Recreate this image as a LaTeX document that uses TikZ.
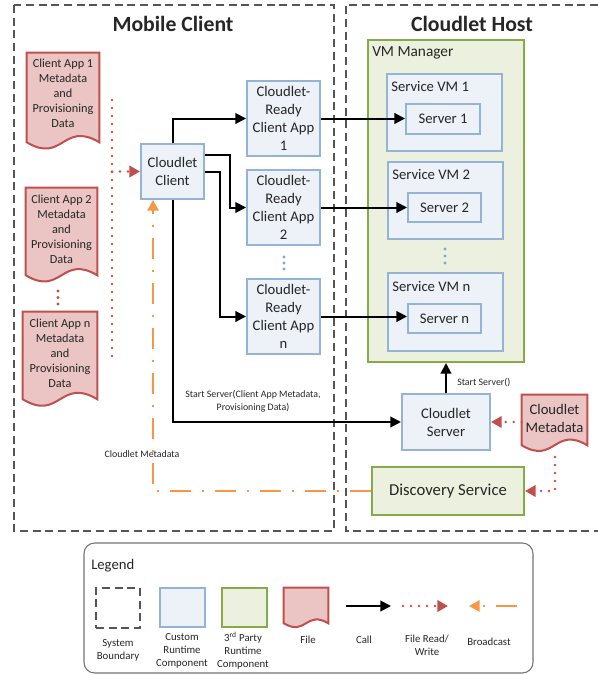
\documentclass[tikz,border=0pt]{standalone}
\usepackage{fontspec}
\setmainfont{Carlito}
\usetikzlibrary{arrows.meta,calc,backgrounds}
\definecolor{bluefill}{HTML}{EDF1F8}
\definecolor{blueline}{HTML}{95B3D7}
\definecolor{greenfill}{HTML}{EBF1DE}
\definecolor{greenline}{HTML}{86AA4A}
\definecolor{redfill}{HTML}{EAC5C4}
\definecolor{redline}{HTML}{C0504D}
\definecolor{orangeline}{HTML}{F79646}
\definecolor{bndline}{HTML}{555555}
\definecolor{dotblue}{HTML}{7FA6D6}
\newcommand\mytitlefont{\fontsize{16.3}{19}\selectfont\bfseries}
\newcommand\myboxfont{\fontsize{11}{13.5}\selectfont}
\newcommand\myfilefont{\fontsize{9.2}{11.25}\selectfont}
\newcommand\mysmallfont{\fontsize{7.4}{9.8}\selectfont}
\newcommand\mylegfont{\fontsize{8.1}{10}\selectfont}
\tikzset{
 sz/.style 2 args={minimum width=#1*0.75pt, minimum height=#2*0.75pt},
 custom/.style={draw=blueline, fill=bluefill, line width=1.5pt, inner sep=0pt, align=center, font=\myboxfont},
 thirdp/.style={draw=greenline, fill=greenfill, line width=1.5pt, inner sep=0pt, align=center, font=\myboxfont},
 filenode/.style={inner sep=0pt, align=center, font=\myfilefont},
 call/.style={line width=1.5pt, -{Triangle[length=8pt,width=8pt]}},
 frwline/.style={redline, line width=2pt, line cap=round, dash pattern=on 0pt off 6pt},
 frw/.style={frwline, -{Triangle[length=8pt,width=8.5pt]}},
 bcast/.style={orangeline, line width=1.5pt, dash pattern=on 15.75pt off 8.25pt on 1.5pt off 8.25pt, -{Triangle[length=8pt,width=8.5pt]}},
 bnd/.style={draw=bndline, line width=1pt, dash pattern=on 6pt off 3.5pt},
 txt/.style={inner sep=0pt, align=center},
}
\newcommand\docshape[1]{%
 \begin{pgfonlayer}{background}
 \path[draw=redline, fill=redfill, line width=1.5pt] let \p1=($(#1.north east)-(#1.north west)$) in
 (#1.north west) -- (#1.north east) -- (#1.south east)
 .. controls ($(#1.south)+(0pt,0.3*\x1)$) and ($(#1.south)+(0pt,-0.3*\x1)$) .. (#1.south west) -- cycle;
 \end{pgfonlayer}}
\begin{document}
\begin{tikzpicture}[x=0.75pt,y=-0.75pt, every node/.append style={text=black!85}]
\useasboundingbox (0,0) rectangle (598,675);
% system boundaries
\draw[bnd] (14,5) rectangle (334,531);
\draw[bnd] (598,5) -- (346,5) -- (346,531) -- (598,531);
\node[txt, font=\mytitlefont] (tmc) at (173,24) {Mobile Client};
\node[txt, font=\mytitlefont] (tch) at (472,24) {Cloudlet Host};

% VM manager and service VMs
\node[thirdp, sz={156}{322}] (vmm) at (446,201) {};
\node[txt, anchor=west, font=\fontsize{11.5}{13}\selectfont] (vmml) at (372,53) {VM Manager};
\node[custom, sz={115}{77}] (svm1) at (444.5,112.5) {};
\node[txt, anchor=west, font=\myboxfont] (svm1l) at (391,87) {Service VM 1};
\node[custom, sz={74}{30}] (srv1) at (443,119) {Server 1};
\node[custom, sz={115}{77}] (svm2) at (445.5,200.5) {};
\node[txt, anchor=west, font=\myboxfont] (svm2l) at (392,175) {Service VM 2};
\node[custom, sz={73}{29}] (srv2) at (444.5,207.5) {Server 2};
\node[custom, sz={115}{78}] (svmn) at (445.5,312) {};
\node[txt, anchor=west, font=\myboxfont] (svmnl) at (392,287) {Service VM n};
\node[custom, sz={73}{29}] (srvn) at (444.5,318.5) {Server n};
\fill[dotblue] (445,249) circle (1.3pt) (445,256) circle (1.3pt) (445,263) circle (1.3pt);

% mobile client components
\node[custom, sz={63}{55}] (cc) at (172.5,171.5) {Cloudlet\\Client};
\node[custom, sz={73}{75}] (app1) at (283.5,118.5) {Cloudlet-\\Ready\\Client App\\1};
\node[custom, sz={73}{75}] (app2) at (283.5,207.5) {Cloudlet-\\Ready\\Client App\\2};
\node[custom, sz={73}{75}] (appn) at (283.5,316.5) {Cloudlet-\\Ready\\Client App\\n};
\fill[dotblue] (284,257) circle (1.3pt) (284,263) circle (1.3pt) (284,269) circle (1.3pt);

% files
\node[filenode, sz={72}{89}] (f1) at (63,97.5) {};
\docshape{f1}
\node[filenode] (f1t) at ($(f1)+(0,-4.5)$) {Client App 1\\Metadata\\and\\Provisioning\\Data};
\node[filenode, sz={71}{87}] (f2) at (61.5,231.5) {};
\docshape{f2}
\node[filenode] (f2t) at ($(f2)+(0,-2.5)$) {Client App 2\\Metadata\\and\\Provisioning\\Data};
\node[filenode, sz={74}{87}] (fn) at (60,355.5) {};
\docshape{fn}
\node[filenode] (fnt) at ($(fn)+(0,-2)$) {Client App n\\Metadata\\and\\Provisioning\\Data};
\fill[redline] (58,291) circle (1.2pt) (58,297.5) circle (1.2pt) (58,304) circle (1.2pt);

% cloudlet host components
\node[custom, sz={88}{56}] (cs) at (446,422) {Cloudlet\\Server};
\node[filenode, font=\myboxfont, sz={65}{50}] (cmeta) at (554.5,420) {};
\docshape{cmeta}
\node[filenode, font=\myboxfont] (cmetat) at ($(cmeta)+(0,-2)$) {Cloudlet\\Metadata};
\node[thirdp, sz={152}{48}, font=\fontsize{12.5}{15}\selectfont] (disc) at (448,491) {Discovery Service};

% file read/write
\coordinate (rt) at (112,100);
\coordinate (rb) at (112,360);
\coordinate (rm) at (112,171.5);
\draw[frwline] (rt) -- (rb);
\draw[frw] (rm) -- (cc.west);
\draw[frw] (cmeta.west |- cs.east) -- (cs.east);
\coordinate (cmb) at (555,457);
\draw[frw] (cmb) |- (disc.east);

% calls
\draw[call] (cc.north) |- (app1.west);
\draw[call] (cc.east |- 0,155) -- (230,155) |- (app2.west);
\draw[call] (cc.east |- 0,172) -- (220,172) |- (appn.west);
\draw[call] (cc.south) |- (cs.west);
\node[txt, font=\mysmallfont] (lss) at (253,401.5) {Start Server(Client App Metadata,\\Provisioning Data)};
\draw[call] (app1.east) -- (app1.east -| srv1.west);
\draw[call] (app2.east) -- (app2.east -| srv2.west);
\draw[call] (appn.east) -- (appn.east -| srvn.west);
\draw[call] (cs.north) -- (cs.north |- vmm.south);
\node[txt, anchor=west, font=\mysmallfont] (lst) at (457,383) {Start Server()};

% broadcast
\draw[bcast] (disc.west) -| ($(cc.south west)+(13,0)$);
\node[txt, font=\mysmallfont] (lcm) at (142,454) {Cloudlet Metadata};

% legend
\node[draw=black!55, rounded corners=8pt, line width=0.8pt, sz={449}{130}] (leg) at (308.5,608) {};
\node[txt, anchor=west, font=\fontsize{11}{13}\selectfont] (legt) at (91,566) {Legend};
\node[bnd, sz={44}{40}] (lsb) at (118,608) {};
\node[custom, sz={45}{39}] (lcr) at (182.5,607.5) {};
\node[thirdp, sz={45}{39}] (l3p) at (244.5,607.5) {};
\node[filenode, sz={44}{35}] (lfile) at (306,605.5) {};
\docshape{lfile}
\coordinate (lc1) at (346,606); \coordinate (lc2) at (391,606);
\draw[call] (lc1) -- (lc2);
\coordinate (lr1) at (403,606); \coordinate (lr2) at (448,606);
\draw[frw] (lr1) -- (lr2);
\coordinate (lb1) at (517,606); \coordinate (lb2) at (469,606);
\draw[bcast] (lb1) -- (lb2);
\node[txt, font=\mylegfont] (tsb) at (118,650.5) {System\\Boundary};
\node[txt, font=\mylegfont] (tcr) at (182,651) {Custom\\Runtime\\Component};
\node[txt, font=\mylegfont] (t3p) at (243,651) {3\textsuperscript{rd} Party\\Runtime\\Component};
\node[txt, font=\mylegfont] (tfi) at (308,640) {File};
\node[txt, font=\mylegfont] (tca) at (364,640) {Call};
\node[txt, font=\mylegfont] (trw) at (427,645.5) {File Read/\\Write};
\node[txt, font=\mylegfont] (tbc) at (489,642) {Broadcast};
\end{tikzpicture}
\end{document}
